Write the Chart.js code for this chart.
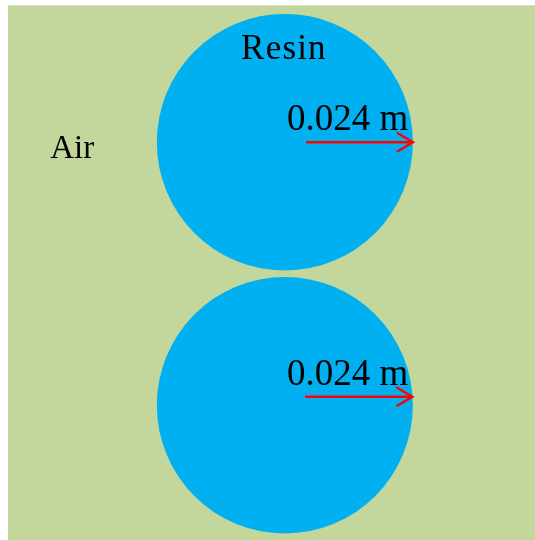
<!DOCTYPE html>
<html>
<head>
<meta charset="utf-8">
<script src="https://cdn.jsdelivr.net/npm/chart.js@4/dist/chart.umd.min.js"></script>
<style>
  html, body { margin: 0; padding: 0; background: #ffffff; }
  #wrap { width: 535px; height: 540px; }
</style>
</head>
<body>
<div id="wrap"><canvas id="domain" width="535" height="540"></canvas></div>
<script>
  // domain and geometry, metres
  const domainX = [0, 0.1];
  const domainY = [0, 0.1];
  const circleX = [0.0519, 0.0519];
  const circleY = [0.0744, 0.0252];
  const circleR = [0.024, 0.024];

  const arrowX0 = [0.0559, 0.0557];
  const arrowX1 = [0.0759, 0.0758];
  const arrowY = [0.0744, 0.0268];

  const labels = ["Resin", "Air", "0.024 m", "0.024 m"];
  const labelX = [0.0437, 0.0079, 0.0523, 0.0523];
  const labelY = [0.0899, 0.0715, 0.0767, 0.0290];

  const GREEN = "#c3d69b";
  const BLUE = "#00b0f0";
  const RED = "#ff0000";

  /* ---------- region + circles, drawn under the arrows ---------- */
  const domainPlugin = {
    id: "domain",
    beforeDatasetsDraw(chart) {
      const { ctx, scales: { x, y } } = chart;
      ctx.save();
      ctx.fillStyle = GREEN;
      const left = x.getPixelForValue(domainX[0]);
      const right = x.getPixelForValue(domainX[1]);
      const top = y.getPixelForValue(domainY[1]);
      const bottom = y.getPixelForValue(domainY[0]);
      ctx.fillRect(left, top, right - left, bottom - top);

      ctx.fillStyle = BLUE;
      circleX.forEach((cx, i) => {
        const px = x.getPixelForValue(cx);
        const py = y.getPixelForValue(circleY[i]);
        const rx = x.getPixelForValue(cx + circleR[i]) - px;
        const ry = py - y.getPixelForValue(circleY[i] + circleR[i]);
        ctx.beginPath();
        ctx.ellipse(px, py, rx, ry, 0, 0, Math.PI * 2);
        ctx.fill();
      });
      ctx.restore();
    },
    afterDatasetsDraw(chart) {
      const { ctx, scales: { x, y } } = chart;
      ctx.save();

      // arrow heads
      ctx.strokeStyle = RED;
      ctx.lineWidth = 2.5;
      ctx.lineCap = "round";
      arrowX1.forEach((ax, i) => {
        const px = x.getPixelForValue(ax);
        const py = y.getPixelForValue(arrowY[i]);
        ctx.beginPath();
        ctx.moveTo(px - 15, py - 9);
        ctx.lineTo(px, py);
        ctx.lineTo(px - 15, py + 9);
        ctx.stroke();
      });

      // labels
      ctx.fillStyle = "#000000";
      ctx.textBaseline = "alphabetic";
      ctx.textAlign = "left";
      labels.forEach((t, i) => {
        ctx.font = (i === 0 ? 35 : i === 1 ? 33 : 37) + "px 'Liberation Serif', 'Times New Roman', serif";
        ctx.letterSpacing = i === 0 ? "1.2px" : "0px";
        ctx.fillText(t, x.getPixelForValue(labelX[i]), y.getPixelForValue(labelY[i]));
      });
      ctx.restore();
    }
  };

  const arrowSets = arrowY.map((ay, i) => ({
    type: "line",
    data: [{ x: arrowX0[i], y: ay }, { x: arrowX1[i] - 0.0004, y: ay }],
    borderColor: RED,
    borderWidth: 2.5,
    pointRadius: 0
  }));

  new Chart(document.getElementById("domain"), {
    type: "scatter",
    data: { datasets: arrowSets },
    options: {
      responsive: false,
      animation: false,
      layout: { padding: 0 },
      plugins: { legend: { display: false }, tooltip: { enabled: false } },
      scales: {
        x: { type: "linear", display: false, min: -0.0015, max: 0.0988 },
        y: { type: "linear", display: false, min: 0, max: 0.101 }
      }
    },
    plugins: [domainPlugin]
  });
</script>
</body>
</html>
